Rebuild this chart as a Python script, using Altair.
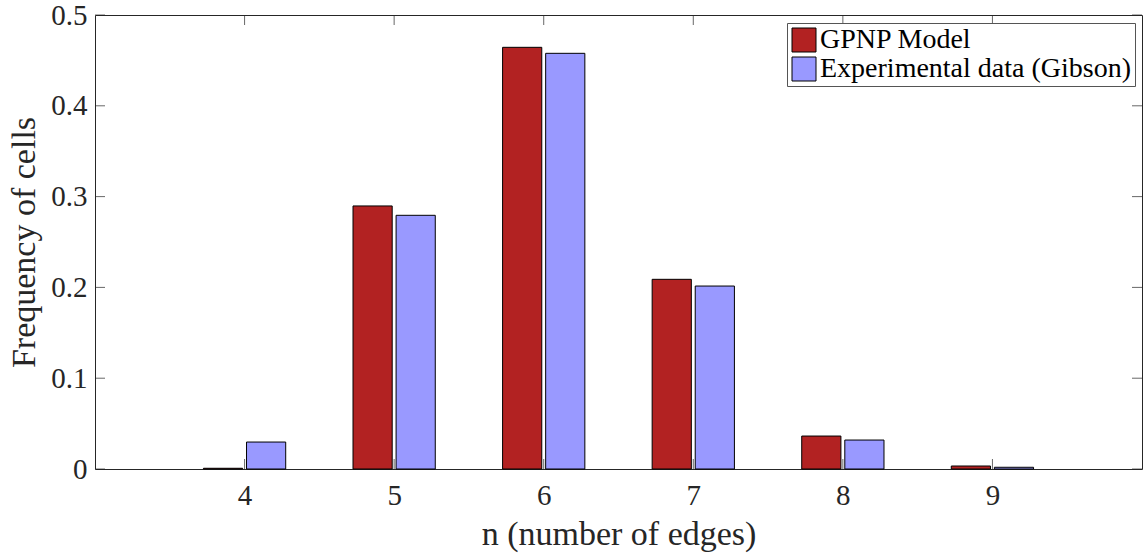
import altair as alt
import pandas as pd

# Polygon side-count distribution: model vs. experimental data
edges = [4, 5, 6, 7, 8, 9]
gpnp_model = [0.0008, 0.2897, 0.4644, 0.2089, 0.0363, 0.0033]
gibson_data = [0.0297, 0.2794, 0.4578, 0.2015, 0.0319, 0.0019]

series_names = ["GPNP Model", "Experimental data (Gibson)"]
series_colors = ["#B22222", "#9999FF"]
y_ticks = [0, 0.1, 0.2, 0.3, 0.4, 0.5]

rows = []
for name, values, side in [(series_names[0], gpnp_model, -1), (series_names[1], gibson_data, 1)]:
    for n, v in zip(edges, values):
        rows.append({"n": n, "freq": v, "series": name, "side": side})
bars_df = pd.DataFrame(rows)

FONT = "Times New Roman, Liberation Serif, Times, serif"
INK = "#262626"
W, H = 1047, 454

x_scale = alt.Scale(domain=[3, 10], nice=False, zero=False)
y_scale = alt.Scale(domain=[0, 0.5], nice=False)

bars = (
    alt.Chart(bars_df)
    .transform_calculate(
        x_lo="datum.n + datum.side * 0.144 - 0.131",
        x_hi="datum.n + datum.side * 0.144 + 0.131",
    )
    .mark_bar(stroke="#000000", strokeWidth=1)
    .encode(
        x=alt.X(
            "x_lo:Q",
            scale=x_scale,
            axis=alt.Axis(
                values=edges,
                format="d",
                title="n (number of edges)",
                titleFont=FONT,
                titleFontSize=34,
                titleFontWeight="normal",
                titleColor=INK,
                titlePadding=7,
                labelFont=FONT,
                labelFontSize=29,
                labelColor=INK,
                labelPadding=12,
                ticks=False,
                domain=False,
                grid=False,
            ),
        ),
        x2="x_hi:Q",
        y=alt.Y(
            "freq:Q",
            scale=y_scale,
            axis=alt.Axis(
                values=y_ticks,
                labelExpr="datum.value == 0 ? '0' : format(datum.value, '.1f')",
                title="Frequency of cells",
                titleFont=FONT,
                titleFontSize=34,
                titleFontWeight="normal",
                titleColor=INK,
                titlePadding=9,
                labelFont=FONT,
                labelFontSize=29,
                labelColor=INK,
                labelPadding=8,
                ticks=False,
                domain=False,
                grid=False,
            ),
        ),
        y2=alt.datum(0),
        color=alt.Color(
            "series:N",
            scale=alt.Scale(domain=series_names, range=series_colors),
            legend=alt.Legend(
                title=None,
                orient="none",
                legendX=692,
                legendY=8,
                symbolType="square",
                symbolSize=576,
                symbolStrokeColor="#000000",
                symbolStrokeWidth=1,
                symbolOpacity=1,
                labelFont=FONT,
                labelFontSize=28,
                labelColor="#000000",
                labelOffset=2,
                labelLimit=0,
                rowPadding=1,
                padding=3,
                strokeColor="#555555",
                fillColor="#FFFFFF",
            ),
        ),
    )
)

edge_df = pd.DataFrame({"n": edges})
ytick_df = pd.DataFrame({"v": y_ticks})

tick_style = dict(color=INK, size=10, thickness=1)

# Inward-pointing tick marks on all four sides of the box
bottom_ticks = alt.Chart(edge_df).mark_tick(orient="vertical", yOffset=-5, **tick_style).encode(
    x=alt.X("n:Q", scale=x_scale), y=alt.datum(0, scale=y_scale)
)
top_ticks = alt.Chart(edge_df).mark_tick(orient="vertical", yOffset=5, **tick_style).encode(
    x=alt.X("n:Q", scale=x_scale), y=alt.datum(0.5, scale=y_scale)
)
left_ticks = alt.Chart(ytick_df).mark_tick(orient="horizontal", xOffset=5, **tick_style).encode(
    y=alt.Y("v:Q", scale=y_scale), x=alt.datum(3, scale=x_scale)
)
right_ticks = alt.Chart(ytick_df).mark_tick(orient="horizontal", xOffset=-5, **tick_style).encode(
    y=alt.Y("v:Q", scale=y_scale), x=alt.datum(10, scale=x_scale)
)

chart = (
    alt.layer(bottom_ticks, top_ticks, left_ticks, right_ticks, bars)
    .properties(
        width=W,
        height=H,
        autosize=alt.AutoSizeParams(type="none"),
        padding={"left": 95, "top": 15, "right": 3, "bottom": 85},
        background="#FFFFFF",
    )
    .configure_view(stroke=INK, strokeWidth=1)
)

chart.save("out.html", embed_options={"renderer": "svg", "actions": False})
